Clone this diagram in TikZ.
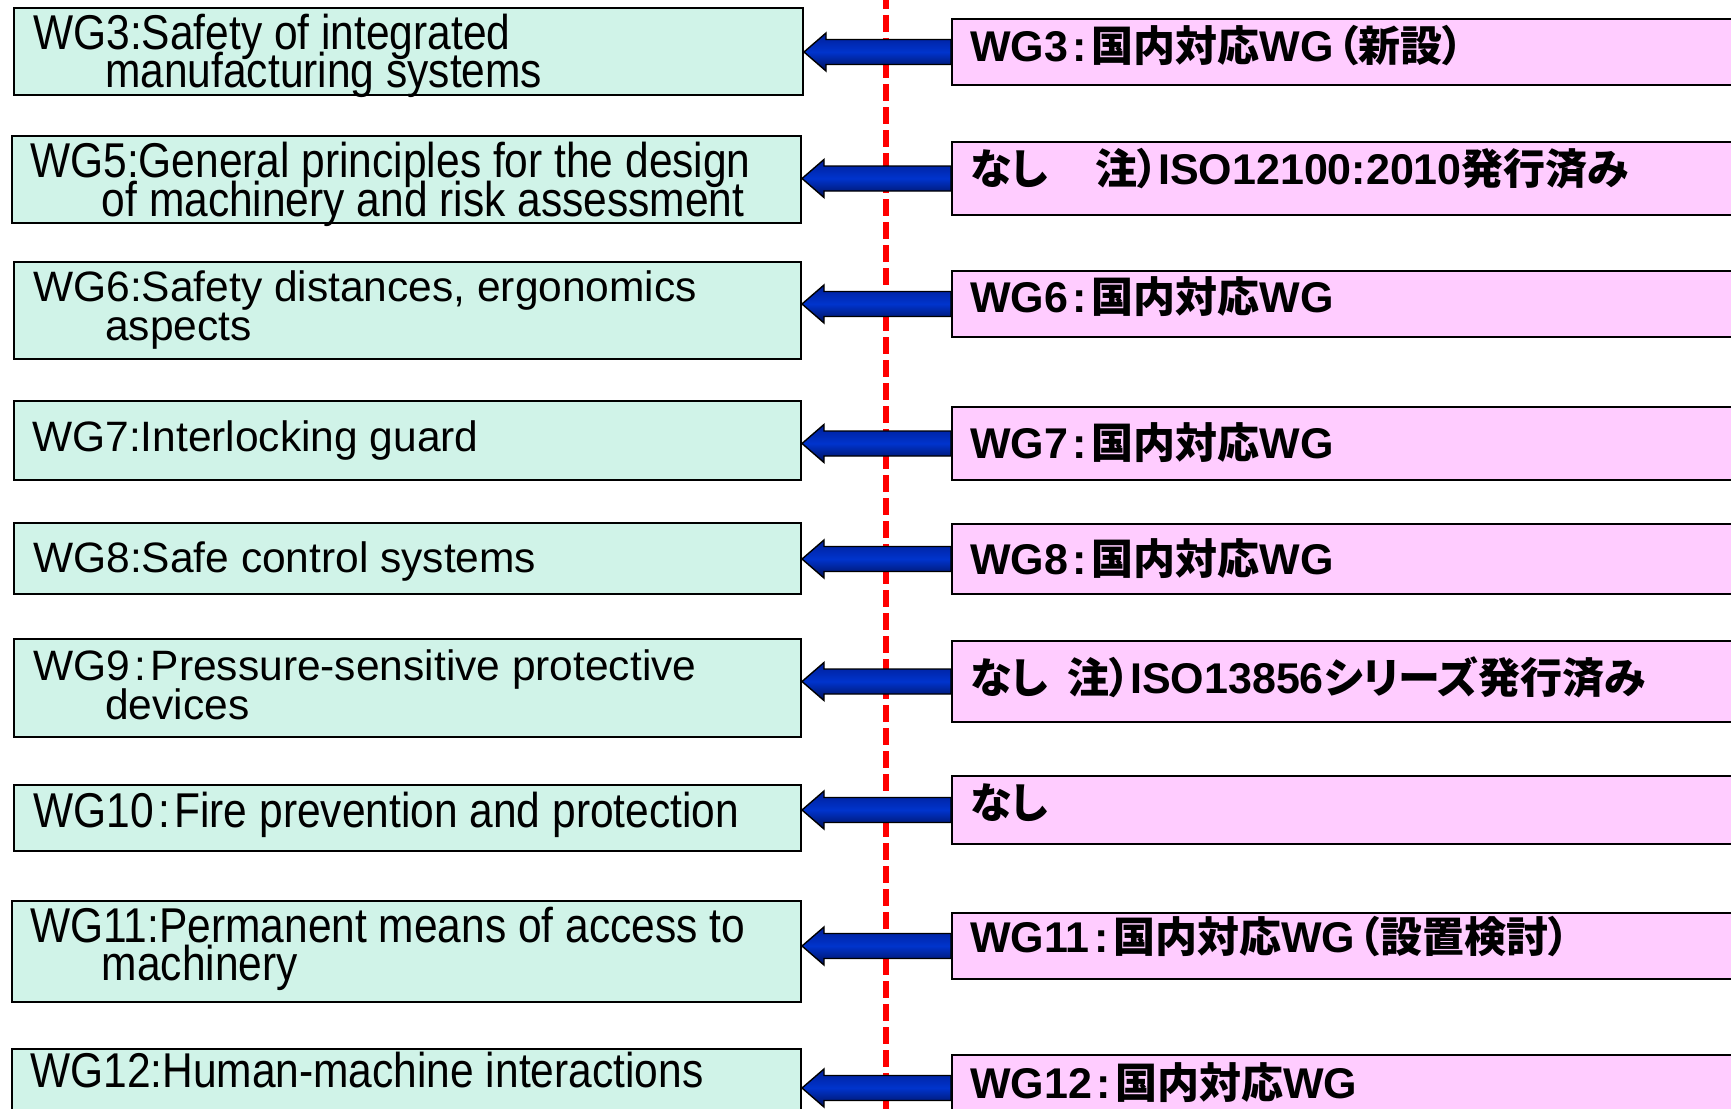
\documentclass[tikz,border=0pt]{standalone}
\usepackage{graphicx}
\usepackage{fontspec}
\setmainfont{Liberation Sans}
\newfontfamily\cjk[RawFeature=+palt]{Noto Sans CJK JP}

\definecolor{leftfill}{RGB}{208,243,232}
\definecolor{rightfill}{RGB}{255,204,255}
\definecolor{arrhi}{RGB}{0,30,150}
\definecolor{arrmid}{RGB}{0,52,205}
\definecolor{arrlo}{RGB}{0,16,90}

% text helpers
\newcommand\lt[1]{{\fontsize{42.5}{50}\selectfont #1}}
\newcommand\ltt[1]{\scalebox{1}[1.15]{\fontsize{42.5}{50}\selectfont #1}}
\newcommand\jb[1]{{\cjk\bfseries\fontsize{42}{48}\selectfont #1}}
\newcommand\lb[1]{{\bfseries\fontsize{43}{50}\selectfont #1}}
\newcommand\lcolon{\hspace{4.5pt}:\hspace{4.5pt}}
\newcommand\bcolon{\lb{\hspace{4.5pt}:\hspace{4.5pt}}}

% block arrow from right box #2 to left box #1, tip named #3
\newcommand\wgarrow[3]{%
  \coordinate (#3) at (#1.east |- #2.west);
  \path[wgarr] (#3) -- ([xshift=22pt,yshift=19pt]#3) -- ([xshift=22pt,yshift=12.5pt]#3)
    -- ([yshift=12.5pt]#2.west) -- ([yshift=-12.5pt]#2.west)
    -- ([xshift=22pt,yshift=-12.5pt]#3) -- ([xshift=22pt,yshift=-19pt]#3) -- cycle;}

\begin{document}
\begin{tikzpicture}[x=1pt,y=-1pt,
  lbox/.style={draw=black,line width=2pt,fill=leftfill,anchor=north west,inner sep=0pt},
  rbox/.style={draw=black,line width=2pt,fill=rightfill,anchor=north west,inner sep=0pt,minimum width=794pt},
  ltext/.style={anchor=base west,inner sep=0pt},
  rtext/.style={anchor=base west,inner sep=0pt},
  wgarr/.style={draw=black,line width=1.4pt,line join=miter,top color=arrhi,bottom color=arrlo,middle color=arrmid},
  redline/.style={draw=red,line width=5.5pt,dash pattern=on 17pt off 6pt}]
\useasboundingbox (0,0) rectangle (1731,1108);
\clip (0,0) rectangle (1731,1108);

% dividing line
\coordinate (dtop) at (886,-8);
\coordinate (dbot) at (886,1115);
\draw[redline] (dtop) -- (dbot);

% ISO working groups (left)
\node[lbox,minimum width=789pt,minimum height=87pt]  (L1) at (13,7) {};
\node[lbox,minimum width=789pt,minimum height=87pt]  (L2) at (11,135) {};
\node[lbox,minimum width=787pt,minimum height=97pt]  (L3) at (13,261) {};
\node[lbox,minimum width=787pt,minimum height=79pt]  (L4) at (13,400) {};
\node[lbox,minimum width=787pt,minimum height=71pt]  (L5) at (13,522) {};
\node[lbox,minimum width=787pt,minimum height=98pt]  (L6) at (13,638) {};
\node[lbox,minimum width=787pt,minimum height=66pt]  (L7) at (13,784) {};
\node[lbox,minimum width=789pt,minimum height=101pt] (L8) at (11,900) {};
\node[lbox,minimum width=789pt,minimum height=72pt]  (L9) at (11,1048) {};

\node[ltext] (L1a) at (33,49.7)   {\ltt{WG3:Safety of integrated}};
\node[ltext] (L1b) at (105,88)    {\ltt{manufacturing systems}};
\node[ltext] (L2a) at (30,177.7)  {\ltt{WG5:General principles for the design}};
\node[ltext] (L2b) at (101.6,216) {\ltt{of machinery and risk assessment}};
\node[ltext] (L3a) at (33,301)    {\lt{WG6:Safety distances, ergonomics}};
\node[ltext] (L3b) at (105,340)   {\lt{aspects}};
\node[ltext] (L4a) at (32,451)    {\lt{WG7:Interlocking guard}};
\node[ltext] (L5a) at (33,572)    {\lt{WG8:Safe control systems}};
\node[ltext] (L6a) at (33,680)    {\lt{WG9\lcolon Pressure-sensitive protective}};
\node[ltext] (L6b) at (105,719)   {\lt{devices}};
\node[ltext] (L7a) at (33,827)    {\ltt{WG10\lcolon Fire prevention and protection}};
\node[ltext] (L8a) at (30,942)    {\ltt{WG11:Permanent means of access to}};
\node[ltext] (L8b) at (101.6,980) {\ltt{machinery}};
\node[ltext] (L9a) at (30,1087)   {\ltt{WG12:Human-machine interactions}};

% domestic counterparts (right)
\node[rbox,minimum height=66pt] (R1) at (951,18) {};
\node[rbox,minimum height=73pt] (R2) at (951,141) {};
\node[rbox,minimum height=66pt] (R3) at (951,270) {};
\node[rbox,minimum height=73pt] (R4) at (951,406) {};
\node[rbox,minimum height=70pt] (R5) at (951,523) {};
\node[rbox,minimum height=81pt] (R6) at (951,640) {};
\node[rbox,minimum height=68pt] (R7) at (951,775) {};
\node[rbox,minimum height=66pt] (R8) at (951,912) {};
\node[rbox,minimum height=66pt] (R9) at (951,1054) {};

\node[rtext] (R1a) at (970,61.8)  {\lb{WG3}\bcolon\jb{国内対応}\lb{WG}\hspace{4pt}\jb{（新設）}};
\node[rtext] (R2a) at (970,184.4) {\jb{なし}\hspace{47pt}\jb{注）}\lb{ISO12100:2010}\jb{発行済み}};
\node[rtext] (R3a) at (970,312.4) {\lb{WG6}\bcolon\jb{国内対応}\lb{WG}};
\node[rtext] (R4a) at (970,458.2) {\lb{WG7}\bcolon\jb{国内対応}\lb{WG}};
\node[rtext] (R5a) at (970,574)   {\lb{WG8}\bcolon\jb{国内対応}\lb{WG}};
\node[rtext] (R6a) at (970,693.3) {\jb{なし}\hspace{19pt}\jb{注）}\lb{ISO13856}\jb{シリーズ発行済み}};
\node[rtext] (R7a) at (970,818)   {\jb{なし}};
\node[rtext] (R8a) at (970,952.8) {\lb{WG11}\bcolon\jb{国内対応}\lb{WG}\hspace{4pt}\jb{（設置検討）}};
\node[rtext] (R9a) at (970,1098.5){\lb{WG12}\bcolon\jb{国内対応}\lb{WG}};

% connectors
\wgarrow{L1}{R1}{A1}
\wgarrow{L2}{R2}{A2}
\wgarrow{L3}{R3}{A3}
\wgarrow{L4}{R4}{A4}
\wgarrow{L5}{R5}{A5}
\wgarrow{L6}{R6}{A6}
\wgarrow{L7}{R7}{A7}
\wgarrow{L8}{R8}{A8}
\wgarrow{L9}{R9}{A9}
\end{tikzpicture}
\end{document}
